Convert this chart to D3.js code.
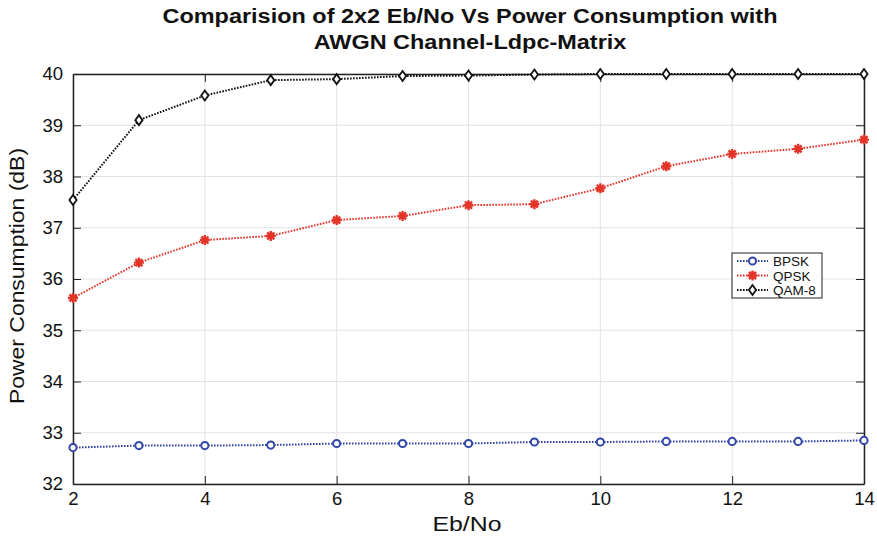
<!DOCTYPE html>
<html>
<head>
<meta charset="utf-8">
<script src="https://cdn.jsdelivr.net/npm/d3@7"></script>
<style>
  body { margin: 0; background: #fff; }
  svg text { font-family: "Liberation Sans", Arial, Helvetica, sans-serif; }
</style>
</head>
<body>
<div id="canvas"></div>
<script>
const ebno = [2, 3, 4, 5, 6, 7, 8, 9, 10, 11, 12, 13, 14];
const bpsk = [32.71, 32.75, 32.75, 32.76, 32.79, 32.79, 32.79, 32.82, 32.82, 32.83, 32.83, 32.83, 32.85];
const qpsk = [35.63, 36.32, 36.76, 36.84, 37.15, 37.23, 37.44, 37.46, 37.77, 38.20, 38.44, 38.54, 38.72];
const qam8 = [37.54, 39.10, 39.58, 39.88, 39.90, 39.96, 39.97, 39.99, 40.0, 40.0, 40.0, 40.0, 40.0];
const xTicks = [2, 4, 6, 8, 10, 12, 14];
const yTicks = [32, 33, 34, 35, 36, 37, 38, 39, 40];
const seriesNames = ["BPSK", "QPSK", "QAM-8"];
const titleLines = ["Comparision of 2x2 Eb/No Vs Power Consumption with", "AWGN Channel-Ldpc-Matrix"];

const width = 877;
const height = 543;
const margin = { top: 74, left: 73, bottom: 59, right: 13 };
const iwidth = width - margin.left - margin.right;
const iheight = height - margin.top - margin.bottom;

const svg = d3.select("#canvas").append("svg")
  .attr("width", width)
  .attr("height", height);

const g = svg.append("g")
  .attr("transform", `translate(${margin.left},${margin.top})`);

const x = d3.scaleLinear().domain([2, 14]).range([0, iwidth]);
const y = d3.scaleLinear().domain([32, 40]).range([iheight, 0]);

// grid
g.append("g").selectAll("line").data(xTicks).join("line")
  .attr("x1", d => x(d)).attr("x2", d => x(d))
  .attr("y1", 0).attr("y2", iheight)
  .attr("stroke", "#e3e3e3").attr("stroke-width", 1);
g.append("g").selectAll("line").data(yTicks).join("line")
  .attr("x1", 0).attr("x2", iwidth)
  .attr("y1", d => y(d)).attr("y2", d => y(d))
  .attr("stroke", "#e3e3e3").attr("stroke-width", 1);

// axes, MATLAB style ticks inward
g.append("g")
  .attr("transform", `translate(0,${iheight})`)
  .call(d3.axisBottom(x).tickValues(xTicks).tickSize(-8).tickPadding(8).tickSizeOuter(0));
g.append("g")
  .call(d3.axisLeft(y).tickValues(yTicks).tickSize(-8).tickPadding(10).tickSizeOuter(0));
g.append("g")
  .call(d3.axisTop(x).tickValues(xTicks).tickSize(-8).tickFormat("").tickSizeOuter(0));
g.append("g")
  .attr("transform", `translate(${iwidth},0)`)
  .call(d3.axisRight(y).tickValues(yTicks).tickSize(-8).tickFormat("").tickSizeOuter(0));

g.selectAll(".domain").attr("stroke", "#222").attr("stroke-width", 1.5);
g.selectAll(".tick line").attr("stroke", "#222");
g.selectAll(".tick text").attr("font-size", 18.5).attr("fill", "#111");

const series = [
  { name: seriesNames[0], values: bpsk, color: "#3246a8", marker: "circle" },
  { name: seriesNames[1], values: qpsk, color: "#e3342a", marker: "star" },
  { name: seriesNames[2], values: qam8, color: "#111111", marker: "diamond" }
];

const line = d3.line().x((d, i) => x(ebno[i])).y(d => y(d));

function drawMarker(sel, type, color) {
  if (type === "circle") {
    sel.append("circle").attr("r", 3.6)
      .attr("fill", "#fff").attr("stroke", color).attr("stroke-width", 2);
  } else if (type === "diamond") {
    sel.append("path").attr("d", "M0,-5L3.6,0L0,5L-3.6,0Z")
      .attr("fill", "#fff").attr("stroke", color).attr("stroke-width", 1.8);
  } else {
    const r = 5;
    let d = "";
    for (let k = 0; k < 4; k++) {
      const a = k * Math.PI / 4;
      d += `M${-r * Math.cos(a)},${-r * Math.sin(a)}L${r * Math.cos(a)},${r * Math.sin(a)}`;
    }
    sel.append("path").attr("d", d)
      .attr("stroke", color).attr("stroke-width", 2.4).attr("fill", "none");
  }
}

series.forEach(s => {
  g.append("path")
    .datum(s.values)
    .attr("d", line)
    .attr("fill", "none")
    .attr("stroke", s.color)
    .attr("stroke-width", 2)
    .attr("stroke-dasharray", "1.6,1.4");
  g.append("g").selectAll("g").data(s.values).join("g")
    .attr("transform", (d, i) => `translate(${x(ebno[i])},${y(d)})`)
    .each(function() { drawMarker(d3.select(this), s.marker, s.color); });
});

// legend
const legend = svg.append("g").attr("transform", "translate(732,253)");
legend.append("rect")
  .attr("width", 90).attr("height", 45)
  .attr("fill", "#fff").attr("stroke", "#222").attr("stroke-width", 1);
series.forEach((s, i) => {
  const row = legend.append("g").attr("transform", `translate(0,${8 + i * 14.5})`);
  row.append("line").attr("x1", 5).attr("x2", 36)
    .attr("stroke", s.color).attr("stroke-width", 2).attr("stroke-dasharray", "1.6,1.4");
  const m = row.append("g").attr("transform", "translate(20.5,0)");
  drawMarker(m, s.marker, s.color);
  row.append("text").attr("x", 41).attr("y", 5)
    .attr("font-size", 13.5).attr("fill", "#111").text(s.name);
});

// labels
svg.append("text")
  .attr("x", 467).attr("y", 531)
  .attr("text-anchor", "middle").attr("font-size", 21).attr("fill", "#111")
  .attr("textLength", 69).attr("lengthAdjust", "spacingAndGlyphs")
  .text("Eb/No");
svg.append("text")
  .attr("transform", `translate(24,${margin.top + iheight / 2 - 3}) rotate(-90)`)
  .attr("text-anchor", "middle").attr("font-size", 21).attr("fill", "#111")
  .attr("textLength", 256).attr("lengthAdjust", "spacingAndGlyphs")
  .text("Power Consumption (dB)");

const titles = titleLines.map((t, i) => svg.append("text")
  .attr("x", 470).attr("y", 23 + i * 26)
  .attr("text-anchor", "middle").attr("font-size", 19.5).attr("font-weight", "bold")
  .attr("fill", "#111")
  .text(t));
const stretch = 615 / titles[0].node().getComputedTextLength();
titles.forEach(t => {
  t.attr("textLength", t.node().getComputedTextLength() * stretch)
    .attr("lengthAdjust", "spacingAndGlyphs");
});
</script>
</body>
</html>
